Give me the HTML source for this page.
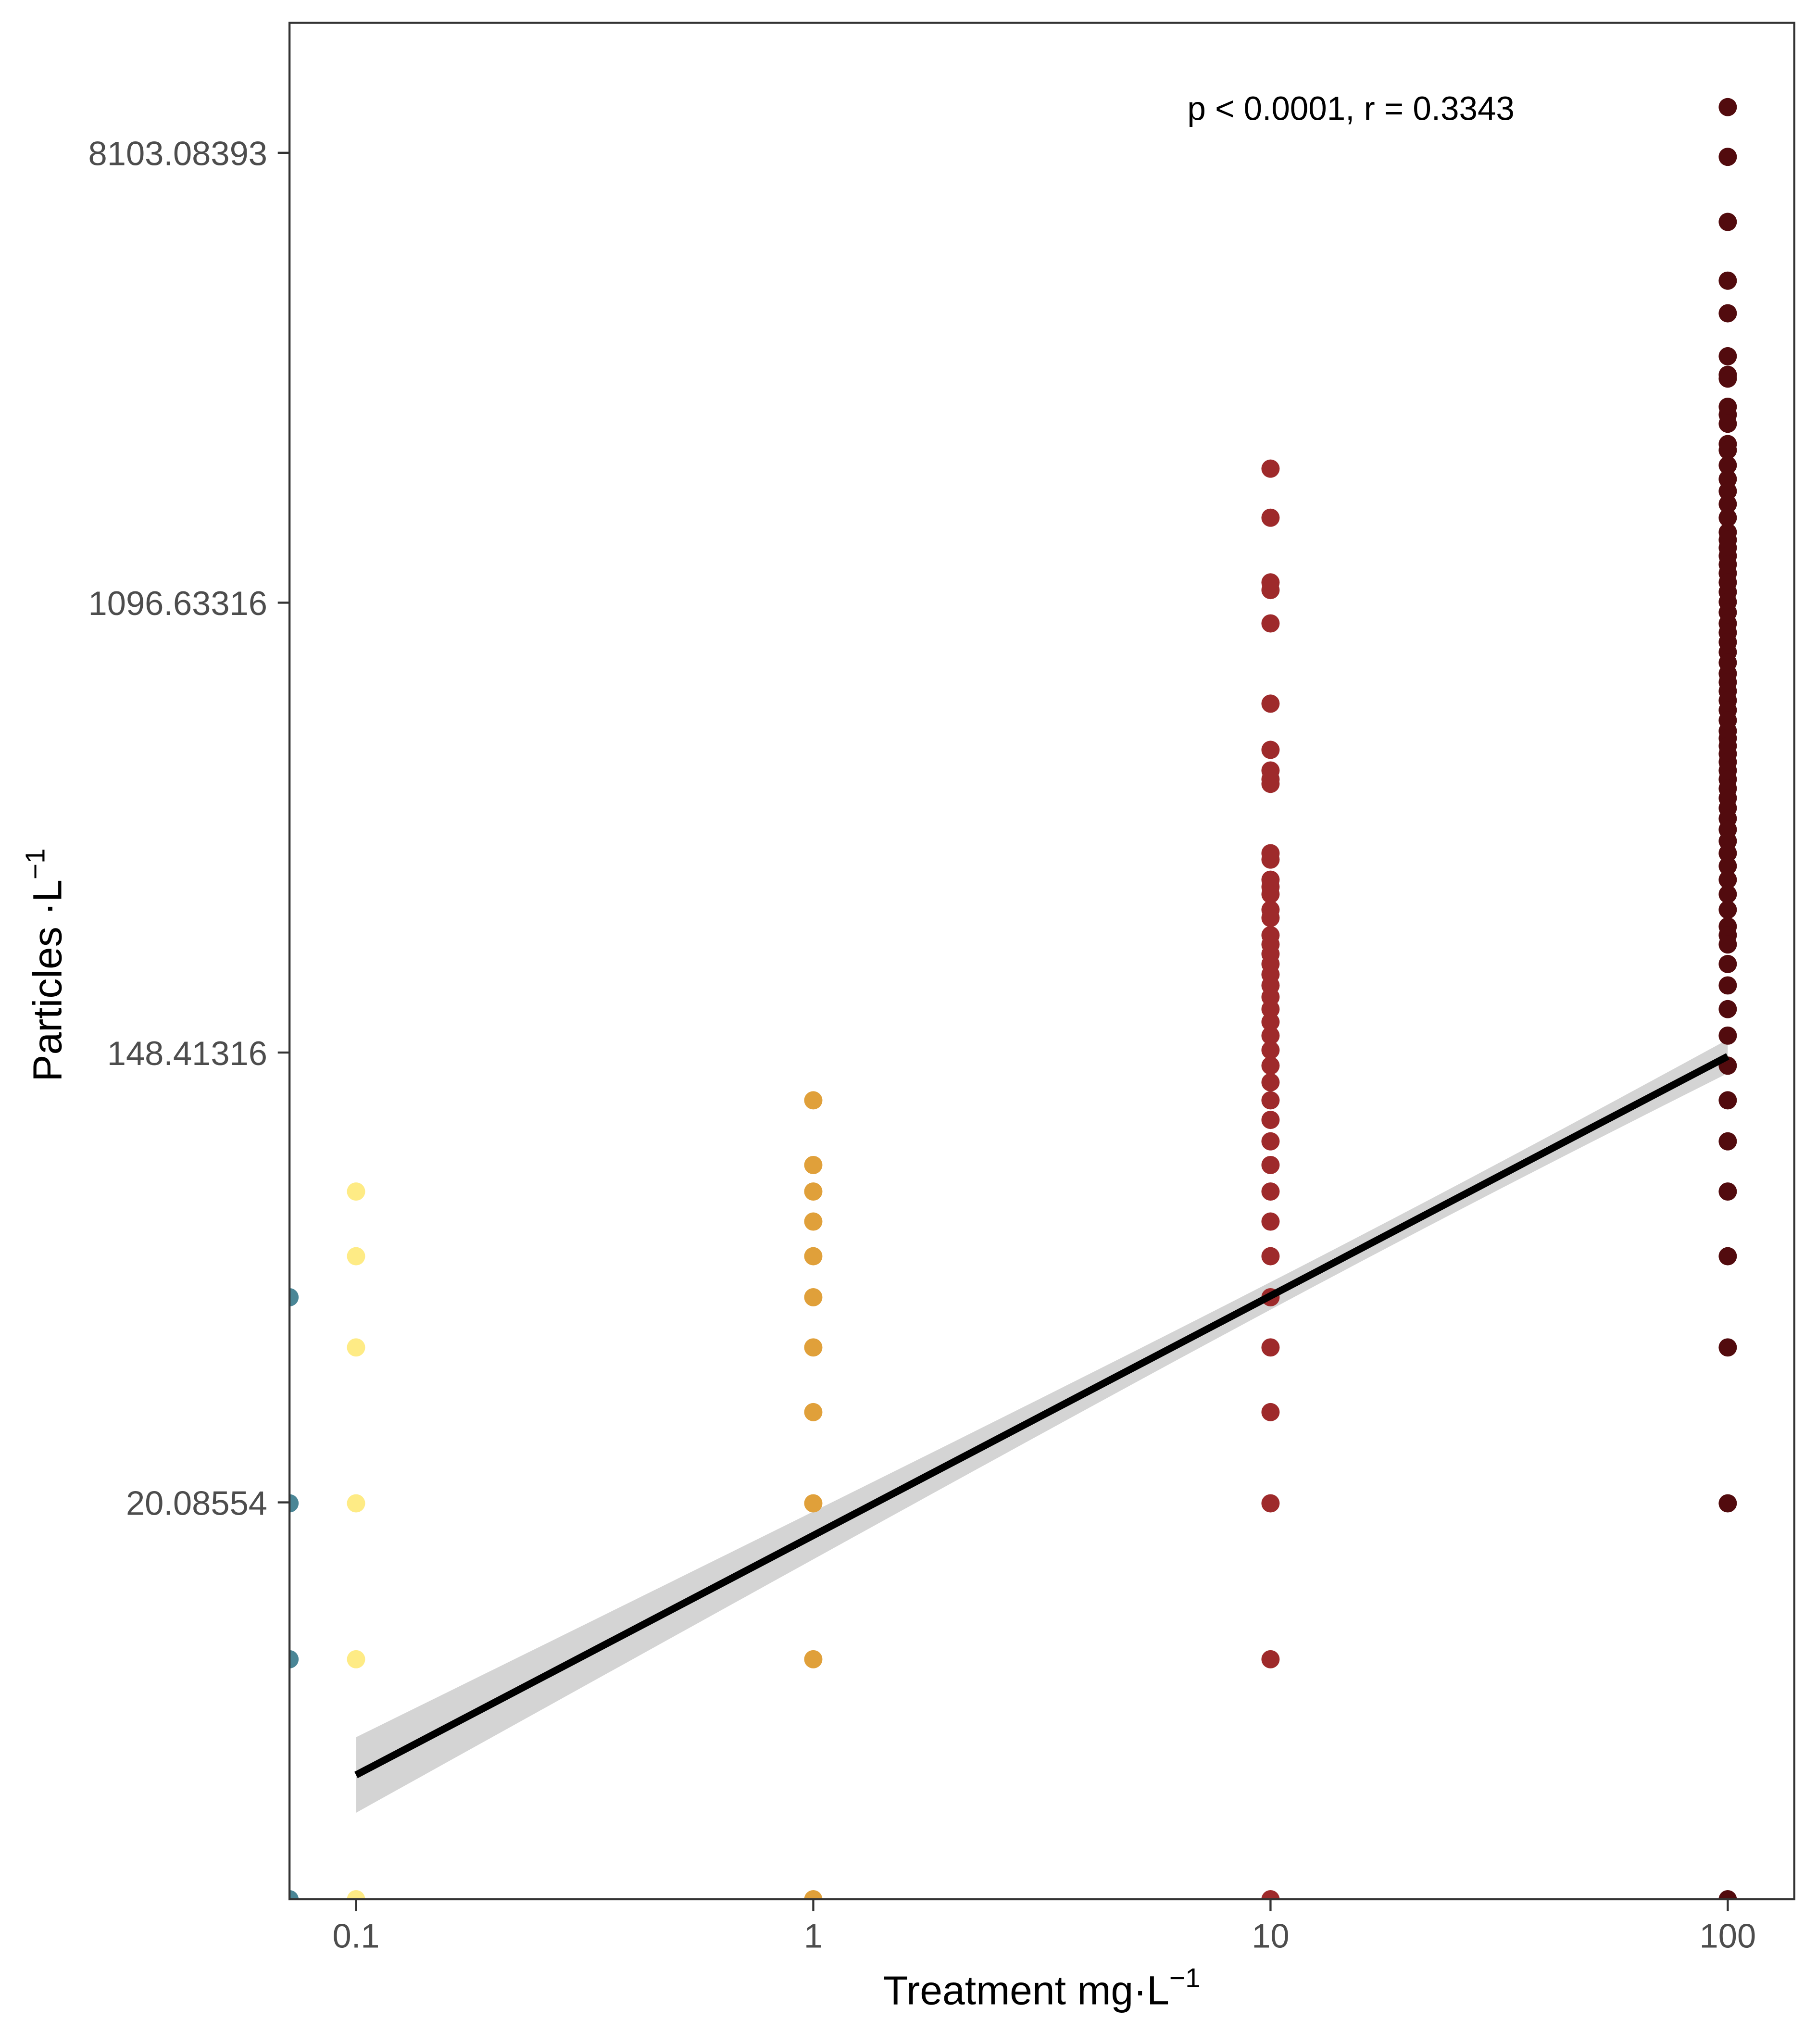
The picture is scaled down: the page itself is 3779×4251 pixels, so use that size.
<!DOCTYPE html>
<html><head><meta charset="utf-8"><style>html,body{margin:0;padding:0;background:#fff}svg{display:block}</style></head>
<body>
<svg id="chart" width="3779" height="4251" viewBox="0 0 1393.4 1567.5" xmlns="http://www.w3.org/2000/svg" font-family="Liberation Sans, Arial, sans-serif">
<defs><clipPath id="panel-clip"><rect x="222" y="17.5" width="1154" height="1439"/></clipPath></defs>
<rect x="0" y="0" width="1393.4" height="1567.5" fill="#fff"/>
<g id="ribbon-layer" clip-path="url(#panel-clip)"></g>
<g id="points-layer" clip-path="url(#panel-clip)"></g>
<g id="line-layer" clip-path="url(#panel-clip)"></g>
<rect x="222" y="17.5" width="1154" height="1439" fill="none" stroke="#333" stroke-width="1.6"/>
<g id="axes-layer"></g>
<text x="1036" y="92" font-size="25.5" text-anchor="middle" fill="#000">p &lt; 0.0001, r = 0.3343</text>
<text x="799" y="1537" font-size="31" text-anchor="middle" fill="#000">Treatment mg·L<tspan dy="-13" font-size="21">−1</tspan></text>
<text transform="translate(47,740) rotate(-90)" font-size="31" text-anchor="middle" fill="#000">Particles ·L<tspan dy="-13" font-size="21">−1</tspan></text>
</svg>
<script>
const treatments = [0, 0.1, 1, 10, 100];
const groupColors = ["#4a8696", "#feeb85", "#e0a03a", "#9e2a2b", "#520b0e"];
const controlValues = [50, 20, 10, 0];
const t01Values = [80, 60, 40, 20, 10, 0];
const t1Values = [120, 90, 80, 70, 60, 50, 40, 30, 20, 10, 0];
const t10Values = [1990, 1600, 1200, 1160, 1000, 700, 570, 520, 500, 490, 360, 350, 320, 310, 300, 280, 270, 250, 240, 230, 220, 210, 200, 190, 180, 170, 160, 150, 140, 130, 120, 110, 100, 90, 80, 70, 60, 50, 40, 30, 20, 10, 0];
const t100Values = [9930, 7960, 5960, 4590, 3970, 3280, 3020, 2970, 2620, 2530, 2430, 2220, 2160, 2020, 1900, 1800, 1700, 1600, 1500, 1450, 1400, 1350, 1300, 1250, 1200, 1150, 1100, 1050, 1000, 960, 920, 880, 840, 800, 770, 740, 710, 680, 650, 620, 600, 580, 560, 540, 520, 500, 480, 460, 440, 420, 400, 380, 360, 340, 320, 300, 280, 260, 250, 240, 220, 200, 180, 160, 140, 120, 100, 80, 60, 40, 20, 0];
const yTickValues = [20.08554, 148.41316, 1096.63316, 8103.08393];
const yTickLabels = ["20.08554", "148.41316", "1096.63316", "8103.08393"];
const xTickValues = [0.1, 1, 10, 100];
const xTickLabels = ["0.1", "1", "10", "100"];
const fitIntercept = 1.788; const fitSlope = 1.065; // ln(y) = a + b*(log10(x)+1)
const seA = 0.00333; const seB = 0.0047; const seCenter = 1.3;

const NS = "http://www.w3.org/2000/svg";
const X0 = 222, X1 = 1376, Y0 = 17.5, Y1 = 1456.5;
const xDom = [-1.1455, 2.1455], yDom = [1.2355, 9.578];
function xScale(v){ const l = v > 0 ? Math.log10(v) : xDom[0]; const c = Math.max(xDom[0], Math.min(xDom[1], l)); return X0 + (c - xDom[0]) / (xDom[1] - xDom[0]) * (X1 - X0); }
function yScaleLn(l){ const c = Math.max(yDom[0], Math.min(yDom[1], l)); return Y1 - (c - yDom[0]) / (yDom[1] - yDom[0]) * (Y1 - Y0); }
function yScale(v){ return yScaleLn(v > 0 ? Math.log(v) : -Infinity); }
function mk(tag, attrs, parent){ const e = document.createElementNS(NS, tag); for (const k in attrs) e.setAttribute(k, attrs[k]); parent.appendChild(e); return e; }

// ribbon
const rib = document.getElementById("ribbon-layer");
let up = [], lo = [];
for (let i = 0; i <= 60; i++) {
  const lx = -1 + 3 * i / 60;
  const m = fitIntercept + fitSlope * (lx + 1);
  const se = Math.sqrt(seA + seB * (lx - seCenter) * (lx - seCenter));
  const px = xScale(Math.pow(10, lx));
  up.push(px + "," + yScaleLn(m + se));
  lo.push(px + "," + yScaleLn(m - se));
}
const ribbon = mk("polygon", {points: up.concat(lo.reverse()).join(" "), fill: "#d4d4d4"}, rib);



// points
const pts = document.getElementById("points-layer");
const groups = [controlValues, t01Values, t1Values, t10Values, t100Values];
const groupNames = ["control", "0-1", "1", "10", "100"];
groups.forEach((vals, gi) => {
  vals.forEach(v => {
    const c = mk("circle", {cx: xScale(treatments[gi]), cy: yScale(v), r: 7, fill: groupColors[gi]}, pts);
    
    
  });
});

// fit line
const ll = document.getElementById("line-layer");
const line = mk("line", {x1: xScale(0.1), y1: yScaleLn(fitIntercept), x2: xScale(100), y2: yScaleLn(fitIntercept + fitSlope * 3), stroke: "#000", "stroke-width": 5.5}, ll);



// axes
const ax = document.getElementById("axes-layer");
yTickValues.forEach((v, i) => {
  const y = yScale(v);
  const t = mk("line", {x1: X0 - 9, x2: X0, y1: y, y2: y, stroke: "#333", "stroke-width": 1.6}, ax);
  
  
  const tx = mk("text", {x: X0 - 17, y: y + 9.5, "font-size": 26, "text-anchor": "end", fill: "#4d4d4d"}, ax);
  tx.textContent = yTickLabels[i];
  
  
});
xTickValues.forEach((v, i) => {
  const x = xScale(v);
  const t = mk("line", {x1: x, x2: x, y1: Y1, y2: Y1 + 9, stroke: "#333", "stroke-width": 1.6}, ax);
  
  
  const tx = mk("text", {x: x, y: Y1 + 37, "font-size": 26, "text-anchor": "middle", fill: "#4d4d4d"}, ax);
  tx.textContent = xTickLabels[i];
  
  
});
</script>
</body></html>
